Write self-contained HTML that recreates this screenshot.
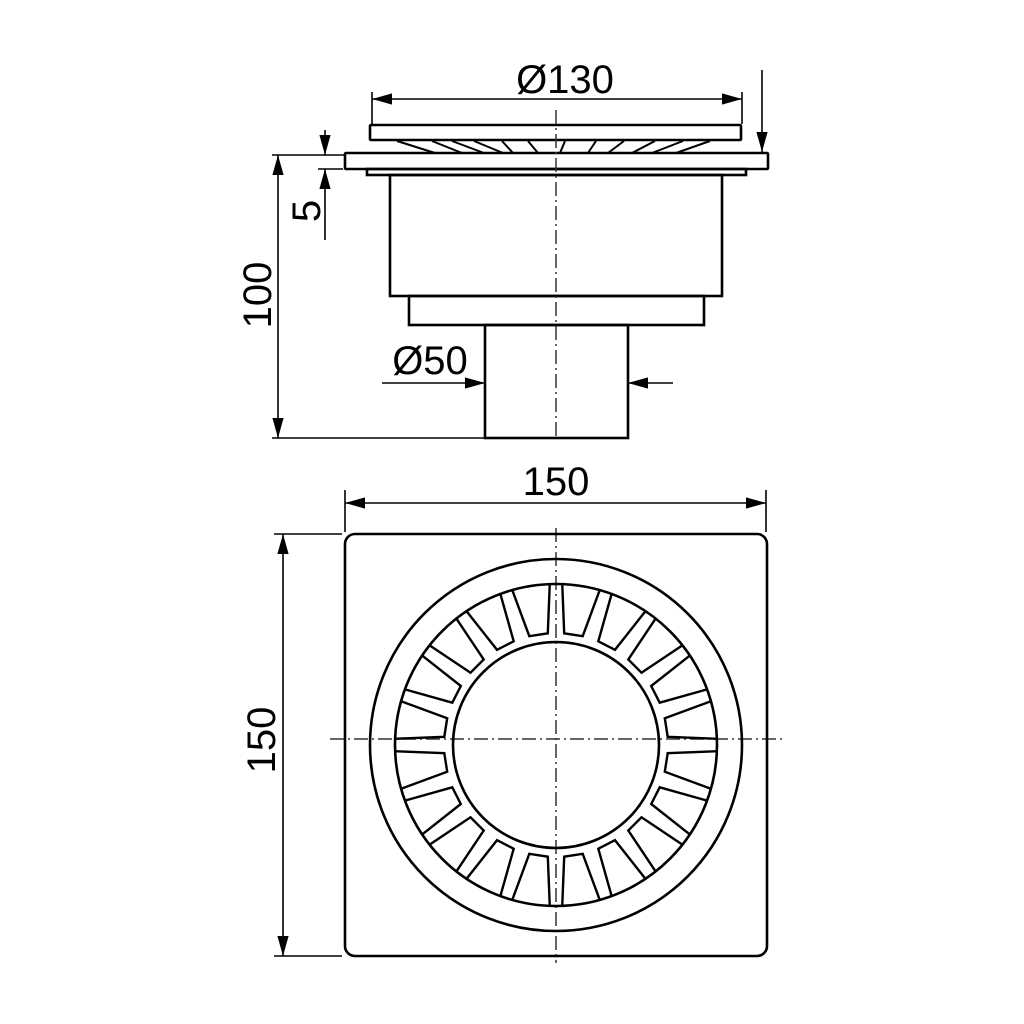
<!DOCTYPE html>
<html><head><meta charset="utf-8"><style>
html,body{margin:0;padding:0;background:#fff;}
svg{display:block;}
text{font-family:"Liberation Sans","DejaVu Sans",sans-serif;fill:#000;}
</style></head><body>
<svg id="s" width="1024" height="1024" viewBox="0 0 1024 1024" xmlns="http://www.w3.org/2000/svg">
<defs>
<marker id="a" viewBox="0 0 10 10" refX="10" refY="5" markerWidth="20" markerHeight="20" markerUnits="userSpaceOnUse" orient="auto-start-reverse"><path d="M0,2.2 L10,5 L0,7.8 z" fill="#000"/></marker>
</defs>
<g fill="none" stroke="#000" stroke-width="2.6">
<rect x="370" y="125" width="371" height="15" rx="1"/>
<rect x="345" y="153" width="423" height="16" rx="1"/>
<rect x="367" y="169" width="379" height="6"/>
<rect x="390" y="175" width="332" height="121"/>
<rect x="409" y="296" width="295" height="29"/>
<rect x="485" y="325" width="143" height="113"/>
<g stroke-width="2">
<path d="M397 141 L435 153 M432 141 L462 153 M452 141 L484 153 M474 141 L503 153 M502 141 L513 153 M528 141 L538 153 M565 141 L560 153 M596 141 L588 153 M624 141 L608 153 M655 141 L632 153 M683 141 L652 153 M710 141 L676 153"/>
</g>
</g>
<g stroke="#333" stroke-width="1.5" stroke-dasharray="14,4,2,4" fill="none">
<line x1="556" y1="110" x2="556" y2="440"/>
<line x1="556" y1="528" x2="556" y2="963"/>
<line x1="330" y1="739" x2="782" y2="739"/>
</g>
<g stroke="#000" stroke-width="1.6" fill="none">
<line x1="372" y1="92" x2="372" y2="124"/>
<line x1="742" y1="92" x2="742" y2="124"/>
<line x1="372" y1="99" x2="742" y2="99" marker-start="url(#a)" marker-end="url(#a)"/>
<line x1="762" y1="70" x2="762" y2="152" marker-end="url(#a)"/>
<line x1="272" y1="155" x2="344" y2="155"/>
<line x1="272" y1="438" x2="484" y2="438"/>
<line x1="278" y1="155" x2="278" y2="438" marker-start="url(#a)" marker-end="url(#a)"/>
<line x1="318" y1="169" x2="343" y2="169"/>
<line x1="325" y1="130" x2="325" y2="155" marker-end="url(#a)"/>
<line x1="325" y1="240" x2="325" y2="169" marker-end="url(#a)"/>
<line x1="382" y1="383" x2="485" y2="383" marker-end="url(#a)"/>
<line x1="673" y1="383" x2="628" y2="383" marker-end="url(#a)"/>
<line x1="345" y1="490" x2="345" y2="532"/>
<line x1="766" y1="490" x2="766" y2="532"/>
<line x1="345" y1="503" x2="766" y2="503" marker-start="url(#a)" marker-end="url(#a)"/>
<line x1="274" y1="534" x2="342" y2="534"/>
<line x1="274" y1="956" x2="342" y2="956"/>
<line x1="283" y1="534" x2="283" y2="956" marker-start="url(#a)" marker-end="url(#a)"/>
</g>
<g font-size="40">
<text x="565" y="93" text-anchor="middle">Ø130</text>
<text x="430" y="374" text-anchor="middle">Ø50</text>
<text x="556" y="495" text-anchor="middle">150</text>
<text transform="translate(271,295) rotate(-90)" text-anchor="middle">100</text>
<text transform="translate(320,211) rotate(-90)" text-anchor="middle">5</text>
<text transform="translate(275,740) rotate(-90)" text-anchor="middle">150</text>
</g>
<g fill="none" stroke="#000" stroke-width="2.6">
<rect x="345" y="534" width="422" height="422" rx="10"/>
<circle cx="556" cy="745" r="186"/>
<circle cx="556" cy="745" r="161"/>
<circle cx="556" cy="745" r="103"/>
<path id="sl" stroke-width="2.4" d=""/>
</g>
</svg>
<script>
(function(){
var cx=556,cy=745,d="";
function p(r,a){var t=a*Math.PI/180;return (cx+r*Math.sin(t)).toFixed(1)+","+(cy-r*Math.cos(t)).toFixed(1);}
for(var k=0;k<20;k++){
 var a=9+18*k;
 d+="M"+p(162,a-6.8)+" L"+p(112,a-4.8)+" L"+p(112,a+4.8)+" L"+p(162,a+6.8)+" ";
}
document.getElementById("sl").setAttribute("d",d);
})();
</script>
</body></html>
